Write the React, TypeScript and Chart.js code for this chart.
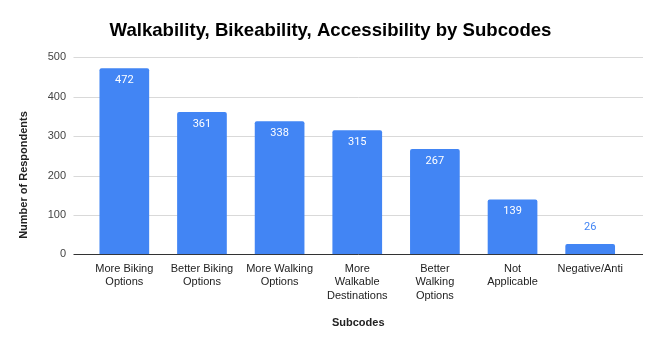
import React, { useEffect, useRef } from "react";
import { Chart, registerables } from "chart.js";

Chart.register(...registerables);

const categories: string[][] = [
  ["More Biking", "Options"],
  ["Better Biking", "Options"],
  ["More Walking", "Options"],
  ["More", "Walkable", "Destinations"],
  ["Better", "Walking", "Options"],
  ["Not", "Applicable"],
  ["Negative/Anti"],
];
const respondents: number[] = [472, 361, 338, 315, 267, 139, 26];
const yTicks: number[] = [0, 100, 200, 300, 400, 500];

const TITLE = "Walkability, Bikeability, Accessibility by Subcodes";
const X_TITLE = "Subcodes";
const Y_TITLE = "Number of Respondents";
const BAR_COLOR = "#4285F4";

const decorPlugin = {
  id: "decor",
  beforeDatasetsDraw(chart: any) {
    const { ctx, chartArea } = chart;
    const y = chart.scales.y;
    const left = chartArea.left - 12;
    const right = chartArea.right + 14;
    ctx.save();
    yTicks.forEach((v) => {
      const py = Math.round(y.getPixelForValue(v)) + 0.5;
      ctx.beginPath();
      ctx.strokeStyle = v === 0 ? "#333333" : "#d9d9d9";
      ctx.lineWidth = 1;
      ctx.moveTo(left, py);
      ctx.lineTo(right, py);
      ctx.stroke();
    });
    ctx.restore();
  },
  afterDatasetsDraw(chart: any) {
    const { ctx } = chart;
    const meta = chart.getDatasetMeta(0);
    ctx.save();
    ctx.font = "11px Roboto";
    ctx.textAlign = "center";
    ctx.textBaseline = "middle";
    meta.data.forEach((el: any, i: number) => {
      const v = respondents[i];
      const h = el.base - el.y;
      if (h > 30) {
        ctx.fillStyle = "#ffffff";
        ctx.fillText(String(v), el.x, el.y + 12);
      } else {
        ctx.fillStyle = BAR_COLOR;
        ctx.fillText(String(v), el.x, el.y - 17);
      }
    });
    ctx.restore();
  },
  afterDraw(chart: any) {
    const { ctx, chartArea } = chart;
    ctx.save();
    ctx.fillStyle = "#000000";
    ctx.textAlign = "center";
    ctx.textBaseline = "alphabetic";
    ctx.font = "bold 18.6px 'Liberation Sans', Arial, sans-serif";
    ctx.fillText(TITLE, 330.5, 36);

    ctx.font = "bold 11px 'Liberation Sans', Arial, sans-serif";
    ctx.fillStyle = "#222222";
    ctx.textBaseline = "middle";
    const cx = (chartArea.left - 12 + chartArea.right + 14) / 2;
    ctx.fillText(X_TITLE, cx, 323);

    ctx.translate(24, 175);
    ctx.rotate(-Math.PI / 2);
    ctx.fillText(Y_TITLE, 0, 0);
    ctx.restore();
  },
};

export default function App() {
  const ref = useRef<HTMLCanvasElement | null>(null);
  useEffect(() => {
    if (!ref.current) return;
    const chart = new Chart(ref.current, {
      type: "bar",
      data: {
        labels: categories as any,
        datasets: [
          {
            data: respondents,
            backgroundColor: BAR_COLOR,
            borderRadius: 2,
            borderSkipped: "bottom",
            categoryPercentage: 1,
            barPercentage: 0.64,
          },
        ],
      },
      options: {
        animation: false,
        responsive: false,
        devicePixelRatio: 1,
        layout: { padding: { top: 57.3, left: 0, right: 32, bottom: 0 } },
        plugins: {
          legend: { display: false },
          title: { display: false },
          tooltip: { enabled: false },
        },
        scales: {
          x: {
            offset: true,
            grid: { display: false, drawTicks: false },
            border: { display: false },
            ticks: {
              color: "#222222",
              padding: 8,
              maxRotation: 0,
              autoSkip: false,
              font: { family: "'Liberation Sans', Arial, sans-serif", size: 11, lineHeight: 1.22 },
            },
            afterFit: (s: any) => {
              s.height = 91.7;
            },
          },
          y: {
            min: 0,
            max: 500,
            grid: { display: false, drawTicks: false },
            border: { display: false },
            afterBuildTicks: (s: any) => {
              s.ticks = yTicks.map((v) => ({ value: v }));
            },
            ticks: {
              color: "#444444",
              padding: 19.5,
              font: { family: "'Liberation Sans', Arial, sans-serif", size: 11 },
            },
            afterFit: (s: any) => {
              s.width = 85.5;
            },
          },
        },
      },
      plugins: [decorPlugin],
    });
    return () => chart.destroy();
  }, []);
  return (
    <div style={{ position: "fixed", left: 0, top: 0, width: 661, height: 346, background: "#fff" }}>
      <canvas ref={ref} width={661} height={346} />
    </div>
  );
}
